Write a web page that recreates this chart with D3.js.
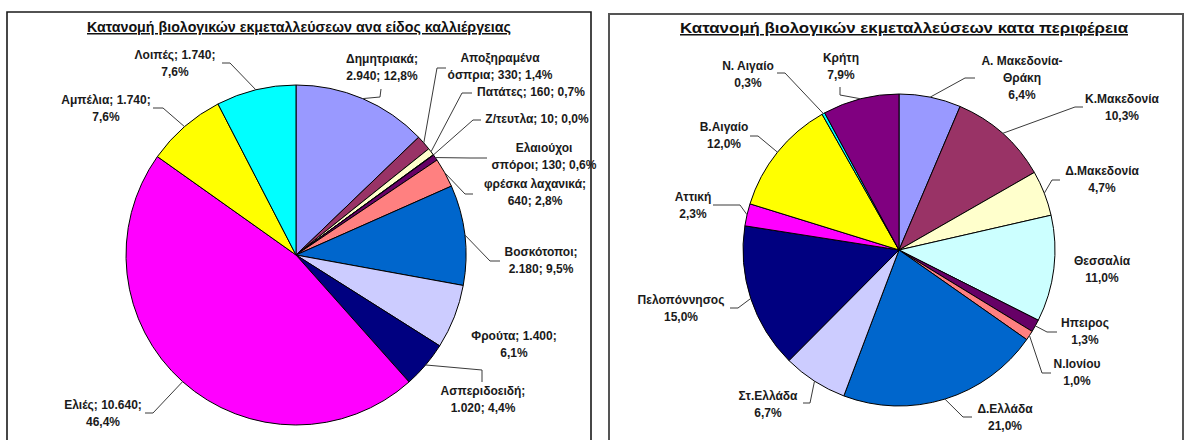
<!DOCTYPE html>
<html>
<head>
<meta charset="utf-8">
<script src="https://cdn.jsdelivr.net/npm/d3@7/dist/d3.min.js"></script>
<style>
  html, body { margin: 0; padding: 0; background: #fff; }
  svg { display: block; }
  text { font-family: "Liberation Sans", Arial, sans-serif; }
</style>
</head>
<body>
<svg id="chart" width="1187" height="440"></svg>
<script>
// ---------- DATA ----------
const cropTitle = "Κατανομή βιολογικών εκμεταλλεύσεων ανα είδος καλλιέργειας";
const cropCategories = ["Δημητριακά", "Αποξηραμένα όσπρια", "Πατάτες", "Ζ/τευτλα", "Ελαιούχοι σπόροι",
  "φρέσκα λαχανικά", "Βοσκότοποι", "Φρούτα", "Ασπεριδοειδή", "Ελιές", "Αμπέλια", "Λοιπές"];
const cropValues = [2940, 330, 160, 10, 130, 640, 2180, 1400, 1020, 10640, 1740, 1740];
const cropLabelLines = [
  ["Δημητριακά;", "2.940; 12,8%"],
  ["Αποξηραμένα", "όσπρια; 330; 1,4%"],
  ["Πατάτες; 160; 0,7%"],
  ["Ζ/τευτλα; 10; 0,0%"],
  ["Ελαιούχοι", "σπόροι; 130; 0,6%"],
  ["φρέσκα λαχανικά;", "640; 2,8%"],
  ["Βοσκότοποι;", "2.180; 9,5%"],
  ["Φρούτα; 1.400;", "6,1%"],
  ["Ασπεριδοειδή;", "1.020; 4,4%"],
  ["Ελιές; 10.640;", "46,4%"],
  ["Αμπέλια; 1.740;", "7,6%"],
  ["Λοιπές; 1.740;", "7,6%"]
];

const regionTitle = "Κατανομή βιολογικών εκμεταλλεύσεων κατα περιφέρεια";
const regionCategories = ["Α. Μακεδονία-Θράκη", "Κ.Μακεδονία", "Δ.Μακεδονία", "Θεσσαλία", "Ηπειρος",
  "Ν.Ιονίου", "Δ.Ελλάδα", "Στ.Ελλάδα", "Πελοπόννησος", "Αττική", "Β.Αιγαίο", "Ν. Αιγαίο", "Κρήτη"];
const regionValues = [6.4, 10.3, 4.7, 11.0, 1.3, 1.0, 21.0, 6.7, 15.0, 2.3, 12.0, 0.3, 7.9];
const regionLabelLines = [
  ["Α. Μακεδονία-", "Θράκη", "6,4%"],
  ["Κ.Μακεδονία", "10,3%"],
  ["Δ.Μακεδονία", "4,7%"],
  ["Θεσσαλία", "11,0%"],
  ["Ηπειρος", "1,3%"],
  ["Ν.Ιονίου", "1,0%"],
  ["Δ.Ελλάδα", "21,0%"],
  ["Στ.Ελλάδα", "6,7%"],
  ["Πελοπόννησος", "15,0%"],
  ["Αττική", "2,3%"],
  ["Β.Αιγαίο", "12,0%"],
  ["Ν. Αιγαίο", "0,3%"],
  ["Κρήτη", "7,9%"]
];

// Excel default chart palette (applied in slice order)
const palette = ["#9999FF", "#993366", "#FFFFCC", "#CCFFFF", "#660066", "#FF8080", "#0066CC",
  "#CCCCFF", "#000080", "#FF00FF", "#FFFF00", "#00FFFF", "#800080"];

// ---------- LAYOUT (label placement, manual like the original) ----------
// [centerX, firstBaseline, textEnd, elbow]  (null leader = no leader line)
const cropLabelLayout = [
  [382, 63, [381, 89], [380, 97]],
  [500, 62, [446, 68], [437, 68]],
  [531, 96, [472, 93], [462, 93]],
  [537, 123, [481, 120], [473, 120]],
  [544, 152, [487, 158], [470, 158]],
  [535, 188, [473, 194], [465, 194]],
  [541, 256, [500, 261], [490, 261]],
  [514, 340, null, null],
  [483, 395, [482, 382], [482, 370]],
  [103, 409, [145, 413], [153, 413]],
  [106, 104, [153, 108], [163, 108]],
  [175, 59, [222, 63], [230, 63]]
];
const regionLabelLayout = [
  [1022, 65, [975, 78], [965, 78]],
  [1122, 103, [1083, 107], [1075, 107]],
  [1102, 175, [1060, 180], [1052, 180]],
  [1102, 265, null, null],
  [1085, 327, [1057, 332], [1047, 332]],
  [1077, 368, [1051, 373], [1042, 373]],
  [1005, 413, [972, 417], [963, 417]],
  [768, 400, [803, 403], [810, 403]],
  [681, 304, [730, 308], [738, 308]],
  [693, 201, [713, 205], [740, 205]],
  [724, 131, [750, 136], [758, 136]],
  [748, 70, [777, 73], [785, 73]],
  [841, 62, [840, 87], [840, 95]]
];

const svg = d3.select("#chart");

// Frames
svg.append("path")
  .attr("d", "M7,452 L7,12 L591,12 L591,452")
  .attr("fill", "none").attr("stroke", "#1a1a1a").attr("stroke-width", 1.6);
svg.append("path")
  .attr("d", "M609,452 L609,14 L1183,14 L1183,452")
  .attr("fill", "none").attr("stroke", "#555").attr("stroke-width", 2);

function drawPie(cfg) {
  const g = svg.append("g");
  // title
  g.append("text")
    .attr("x", cfg.titleX).attr("y", cfg.titleY)
    .attr("text-anchor", "middle")
    .attr("font-size", cfg.titleSize).attr("font-weight", "bold")
    .attr("textLength", cfg.titleLen).attr("lengthAdjust", "spacingAndGlyphs")
    .attr("fill", "#111")
    .style("text-decoration", "underline")
    .text(cfg.title);

  const pie = d3.pie().sort(null).value(d => d)
    .startAngle(0).endAngle(2 * Math.PI);
  const arcs = pie(cfg.values);
  const arc = d3.arc().innerRadius(0).outerRadius(cfg.r);
  const edge = d3.arc().innerRadius(cfg.r).outerRadius(cfg.r);

  const pg = g.append("g").attr("transform", `translate(${cfg.cx},${cfg.cy})`);
  pg.selectAll("path.slice").data(arcs).join("path")
    .attr("class", "slice")
    .attr("d", arc)
    .attr("fill", (d, i) => palette[i % palette.length])
    .attr("stroke", "#000").attr("stroke-width", 1)
    .attr("stroke-linejoin", "round");

  // leader lines
  arcs.forEach((d, i) => {
    const lay = cfg.layout[i];
    if (!lay[2]) return;
    const mid = (d.startAngle + d.endAngle) / 2;
    const px = cfg.cx + cfg.r * Math.sin(mid);
    const py = cfg.cy - cfg.r * Math.cos(mid);
    const line = d3.line();
    g.append("path")
      .attr("d", line([lay[2], lay[3], [px, py]]))
      .attr("fill", "none").attr("stroke", "#3a3a3a").attr("stroke-width", 1);
  });

  // labels
  cfg.lines.forEach((lines, i) => {
    const lay = cfg.layout[i];
    const t = g.append("text")
      .attr("text-anchor", "middle")
      .attr("font-size", 12).attr("font-weight", "bold")
      .attr("fill", "#1a1a1a");
    lines.forEach((ln, k) => {
      t.append("tspan").attr("x", lay[0]).attr("y", lay[1] + k * 17).text(ln);
    });
  });
}

drawPie({
  title: cropTitle, titleX: 299, titleY: 32, titleSize: 15, titleLen: 424,
  values: cropValues, lines: cropLabelLines, layout: cropLabelLayout,
  cx: 296, cy: 255, r: 170
});
drawPie({
  title: regionTitle, titleX: 904, titleY: 33, titleSize: 15, titleLen: 448,
  values: regionValues, lines: regionLabelLines, layout: regionLabelLayout,
  cx: 899, cy: 250, r: 156
});
</script>
</body>
</html>
